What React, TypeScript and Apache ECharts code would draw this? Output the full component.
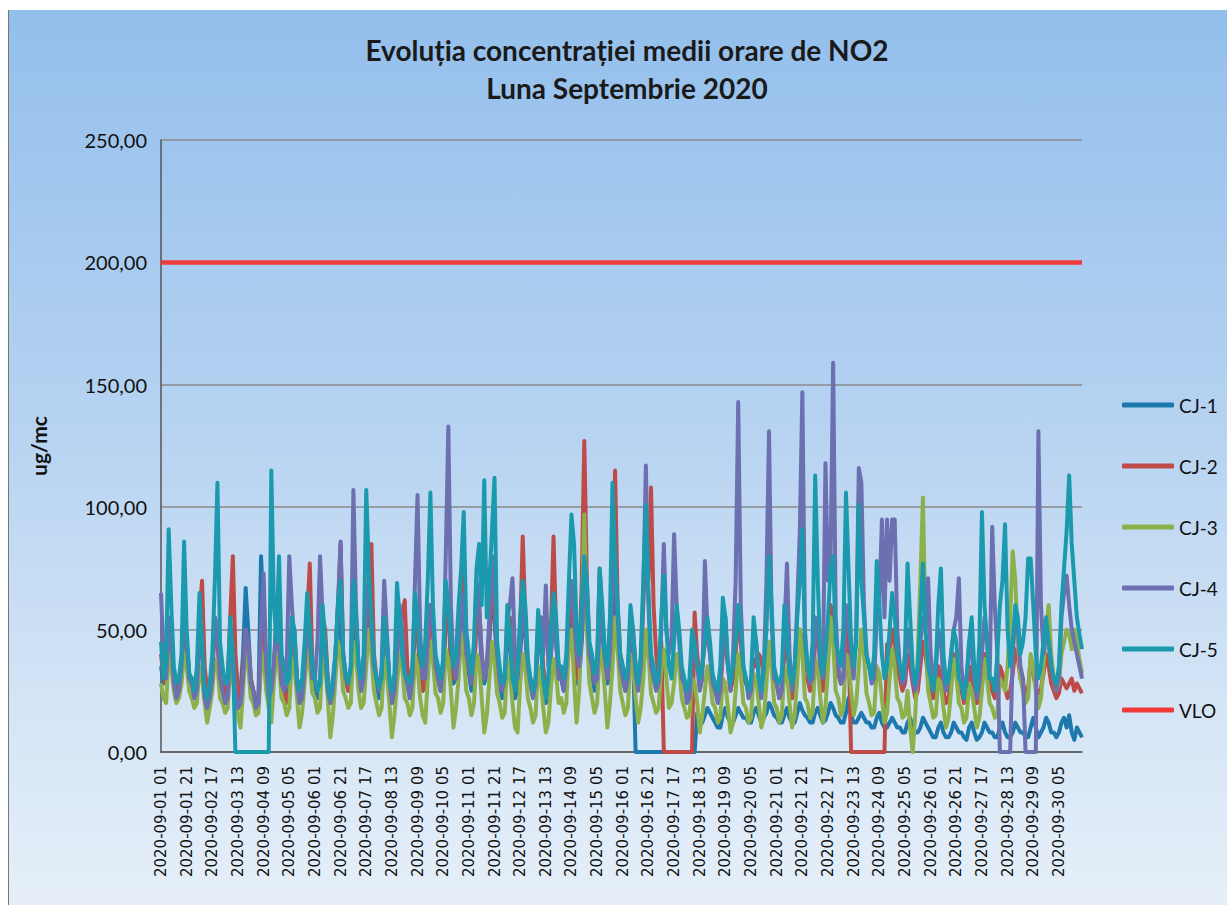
import React, { useEffect, useRef } from "react";
import * as echarts from "echarts";

// Hourly slots sampled every 2 hours: 01,03,...,23 per day, 1..30 September 2020
const DAY_NUMBERS = Array.from({ length: 30 }, (_, i) => i + 1);
const SLOT_HOURS = [1, 3, 5, 7, 9, 11, 13, 15, 17, 19, 21, 23];

const CJ1_DAYS = [
  [35, 28, 30, 50, 45, 30, 25, 28, 35, 55, 45, 30],
  [28, 22, 25, 50, 45, 28, 22, 25, 35, 55, 50, 30],
  [28, 22, 25, 50, 45, 30, 22, 25, 40, 67, 50, 30],
  [25, 20, 22, 80, 55, 35, 25, 28, 35, 55, 45, 30],
  [28, 22, 25, 50, 45, 30, 22, 25, 35, 55, 50, 30],
  [28, 22, 25, 50, 45, 28, 20, 25, 38, 55, 50, 32],
  [30, 25, 28, 55, 50, 32, 25, 28, 45, 65, 55, 35],
  [28, 22, 25, 50, 45, 28, 20, 25, 40, 55, 48, 30],
  [28, 22, 25, 55, 50, 32, 25, 28, 40, 60, 50, 32],
  [30, 25, 28, 55, 60, 35, 28, 30, 40, 60, 55, 35],
  [32, 25, 30, 60, 55, 35, 28, 32, 45, 65, 55, 35],
  [28, 22, 25, 50, 45, 30, 22, 25, 40, 55, 48, 30],
  [28, 22, 25, 48, 45, 28, 20, 25, 40, 55, 45, 30],
  [30, 25, 28, 55, 55, 38, 28, 30, 45, 65, 55, 35],
  [32, 25, 28, 55, 50, 35, 28, 32, 50, 65, 55, 35],
  [30, 25, 28, 50, 40, 0, 0, 0, 0, 0, 0, 0],
  [0, 0, 0, 0, 0, 0, 0, 0, 0, 0, 0, 0],
  [0, 0, 0, 0, 0, 16, 14, 12, 15, 18, 16, 14],
  [12, 10, 10, 15, 18, 14, 12, 12, 15, 18, 16, 14],
  [14, 12, 12, 16, 18, 15, 12, 14, 16, 20, 18, 15],
  [14, 12, 12, 15, 18, 14, 12, 12, 16, 20, 17, 15],
  [14, 12, 12, 16, 18, 15, 12, 13, 16, 20, 18, 15],
  [14, 12, 12, 16, 22, 15, 12, 12, 14, 16, 14, 12],
  [12, 10, 10, 14, 16, 12, 10, 10, 12, 14, 12, 10],
  [10, 8, 8, 12, 14, 10, 8, 8, 10, 14, 12, 10],
  [8, 6, 6, 10, 12, 8, 6, 6, 8, 12, 10, 8],
  [8, 6, 5, 10, 12, 8, 5, 6, 8, 12, 10, 8],
  [8, 6, 6, 10, 12, 8, 6, 6, 8, 12, 10, 8],
  [8, 6, 6, 10, 14, 10, 6, 8, 10, 14, 12, 8],
  [8, 6, 8, 12, 14, 10, 15, 8, 5, 10, 8, 6],
];

const CJ2_DAYS = [
  [40, 30, 28, 45, 40, 30, 25, 28, 35, 50, 45, 32],
  [30, 25, 30, 55, 70, 35, 25, 28, 35, 50, 45, 30],
  [28, 22, 28, 55, 80, 40, 25, 18, 35, 50, 45, 30],
  [25, 20, 22, 45, 55, 35, 25, 25, 35, 50, 45, 28],
  [25, 20, 25, 50, 50, 30, 20, 22, 35, 55, 77, 35],
  [30, 25, 28, 55, 50, 30, 22, 25, 40, 60, 85, 40],
  [30, 25, 30, 60, 55, 35, 28, 30, 50, 70, 85, 40],
  [30, 25, 30, 55, 45, 30, 22, 25, 40, 50, 55, 62],
  [35, 28, 30, 55, 50, 35, 25, 28, 40, 55, 50, 35],
  [30, 25, 30, 55, 60, 40, 30, 30, 45, 60, 85, 40],
  [35, 28, 30, 55, 60, 40, 30, 35, 50, 65, 60, 40],
  [30, 25, 28, 50, 55, 35, 25, 30, 50, 88, 55, 35],
  [30, 25, 28, 50, 55, 35, 25, 30, 50, 88, 50, 35],
  [32, 28, 32, 60, 65, 45, 30, 35, 70, 127, 70, 40],
  [35, 30, 35, 75, 55, 40, 30, 40, 70, 115, 60, 40],
  [35, 28, 30, 55, 50, 35, 28, 35, 60, 90, 70, 108],
  [60, 40, 30, 45, 0, 0, 0, 0, 0, 0, 0, 0],
  [0, 0, 0, 0, 57, 40, 30, 35, 45, 50, 40, 30],
  [28, 22, 25, 40, 45, 35, 25, 30, 40, 55, 45, 30],
  [28, 25, 28, 38, 35, 40, 38, 30, 35, 45, 40, 30],
  [28, 22, 25, 40, 45, 30, 22, 25, 35, 50, 45, 30],
  [30, 25, 28, 45, 50, 35, 25, 30, 45, 60, 55, 35],
  [32, 28, 30, 50, 45, 0, 0, 0, 0, 0, 0, 0],
  [0, 0, 0, 0, 0, 0, 0, 44, 40, 50, 45, 35],
  [30, 25, 28, 40, 35, 28, 22, 25, 35, 45, 40, 30],
  [28, 22, 25, 35, 30, 25, 20, 22, 30, 40, 35, 28],
  [25, 20, 22, 35, 30, 25, 20, 22, 30, 40, 35, 28],
  [25, 22, 24, 35, 32, 26, 22, 25, 32, 42, 38, 30],
  [28, 24, 26, 38, 32, 26, 24, 26, 32, 40, 35, 28],
  [25, 22, 24, 30, 28, 26, 28, 30, 25, 28, 26, 24],
];

const CJ3_DAYS = [
  [28, 22, 20, 40, 35, 25, 20, 22, 28, 40, 35, 25],
  [22, 18, 20, 35, 30, 20, 12, 18, 25, 38, 35, 22],
  [20, 16, 18, 35, 30, 22, 15, 10, 25, 45, 35, 22],
  [20, 15, 16, 35, 40, 25, 18, 12, 28, 40, 35, 22],
  [20, 15, 18, 38, 35, 22, 10, 16, 28, 42, 35, 24],
  [22, 16, 18, 40, 35, 22, 6, 15, 30, 45, 40, 25],
  [22, 18, 20, 45, 40, 25, 18, 20, 35, 50, 40, 25],
  [20, 15, 18, 38, 32, 20, 6, 15, 28, 40, 35, 22],
  [20, 15, 18, 40, 35, 22, 15, 12, 30, 45, 38, 24],
  [22, 16, 20, 42, 38, 25, 10, 18, 30, 48, 40, 25],
  [22, 15, 20, 40, 38, 22, 8, 15, 30, 45, 38, 24],
  [20, 14, 16, 38, 32, 20, 10, 8, 28, 40, 35, 22],
  [18, 12, 15, 35, 30, 18, 8, 12, 26, 38, 32, 20],
  [22, 16, 20, 45, 50, 30, 12, 25, 55, 97, 50, 28],
  [22, 16, 20, 42, 38, 25, 10, 20, 35, 55, 42, 25],
  [20, 15, 18, 40, 35, 22, 12, 18, 30, 50, 40, 24],
  [20, 16, 18, 35, 42, 30, 18, 20, 28, 40, 35, 22],
  [18, 14, 15, 30, 28, 20, 8, 15, 25, 35, 30, 20],
  [18, 12, 14, 30, 28, 18, 8, 12, 25, 40, 32, 20],
  [18, 12, 14, 32, 30, 20, 10, 14, 28, 45, 35, 20],
  [18, 12, 15, 35, 32, 20, 10, 15, 30, 50, 40, 22],
  [20, 14, 16, 38, 35, 22, 12, 18, 35, 55, 45, 25],
  [22, 15, 18, 40, 38, 25, 15, 20, 35, 50, 40, 24],
  [20, 15, 16, 35, 32, 22, 12, 16, 30, 42, 35, 22],
  [20, 14, 15, 25, 10, 0, 15, 40, 70, 104, 50, 25],
  [20, 14, 15, 30, 28, 18, 10, 14, 25, 38, 32, 20],
  [18, 12, 14, 28, 25, 18, 10, 14, 25, 38, 30, 20],
  [18, 14, 16, 30, 28, 25, 35, 55, 82, 70, 45, 30],
  [25, 20, 22, 40, 35, 25, 18, 22, 35, 50, 60, 40],
  [30, 25, 28, 40, 45, 50, 48, 42, 50, 45, 38, 32],
];

const CJ4_DAYS = [
  [65, 40, 30, 55, 45, 28, 22, 25, 35, 60, 45, 30],
  [28, 22, 25, 50, 40, 22, 18, 22, 30, 55, 50, 30],
  [25, 20, 22, 45, 40, 25, 18, 20, 30, 50, 45, 28],
  [25, 18, 20, 50, 73, 35, 22, 25, 35, 55, 45, 28],
  [25, 35, 80, 60, 45, 28, 20, 22, 35, 55, 45, 30],
  [30, 45, 80, 55, 40, 25, 20, 25, 40, 60, 86, 40],
  [30, 28, 35, 107, 60, 35, 25, 30, 60, 70, 50, 35],
  [30, 25, 35, 70, 50, 30, 20, 25, 40, 60, 50, 32],
  [28, 22, 30, 70, 105, 50, 30, 30, 45, 60, 55, 35],
  [30, 25, 35, 80, 133, 60, 35, 30, 40, 65, 60, 40],
  [35, 28, 40, 70, 60, 40, 30, 35, 55, 80, 65, 40],
  [30, 25, 30, 55, 60, 71, 40, 30, 45, 60, 50, 35],
  [28, 22, 28, 50, 55, 40, 68, 35, 40, 55, 45, 30],
  [30, 25, 35, 60, 70, 55, 40, 35, 50, 75, 60, 40],
  [35, 28, 30, 55, 50, 38, 30, 40, 70, 75, 55, 35],
  [30, 25, 30, 55, 45, 32, 25, 35, 65, 117, 60, 35],
  [30, 25, 28, 50, 85, 50, 40, 45, 89, 60, 45, 30],
  [28, 20, 22, 40, 45, 35, 25, 30, 78, 50, 40, 28],
  [25, 20, 25, 45, 55, 35, 25, 40, 70, 143, 60, 35],
  [30, 22, 25, 50, 45, 30, 22, 35, 70, 131, 55, 30],
  [28, 22, 25, 50, 77, 40, 25, 35, 60, 90, 147, 50],
  [35, 28, 30, 55, 50, 35, 30, 118, 70, 80, 159, 55],
  [35, 28, 30, 60, 55, 40, 30, 50, 116, 110, 60, 40],
  [35, 28, 30, 55, 60, 95, 55, 95, 70, 95, 95, 50],
  [35, 28, 30, 50, 45, 30, 25, 30, 45, 55, 50, 71],
  [40, 30, 32, 50, 45, 30, 25, 30, 40, 50, 55, 71],
  [35, 25, 28, 45, 40, 30, 22, 28, 40, 55, 45, 30],
  [92, 60, 40, 0, 0, 0, 0, 0, 40, 55, 50, 35],
  [30, 0, 0, 0, 0, 0, 131, 60, 40, 50, 45, 35],
  [30, 25, 30, 55, 65, 72, 60, 50, 45, 40, 35, 30],
];

const CJ5_DAYS = [
  [45, 30, 38, 91, 60, 35, 28, 30, 40, 86, 50, 32],
  [30, 25, 35, 65, 45, 25, 22, 28, 40, 70, 110, 45],
  [35, 28, 30, 55, 40, 0, 0, 0, 0, 0, 0, 0],
  [0, 0, 0, 0, 0, 0, 0, 115, 60, 45, 80, 40],
  [35, 28, 30, 55, 50, 30, 25, 30, 45, 65, 50, 35],
  [30, 25, 28, 60, 45, 28, 22, 30, 40, 62, 70, 40],
  [32, 28, 35, 70, 55, 35, 30, 40, 107, 75, 55, 38],
  [30, 26, 30, 55, 45, 30, 25, 32, 69, 55, 40, 32],
  [30, 28, 35, 65, 55, 40, 35, 45, 70, 106, 60, 40],
  [35, 30, 38, 70, 60, 45, 35, 40, 60, 75, 98, 50],
  [40, 32, 45, 75, 85, 60, 111, 55, 70, 90, 112, 45],
  [35, 28, 30, 60, 50, 30, 25, 35, 55, 70, 60, 38],
  [30, 25, 30, 58, 48, 30, 22, 30, 50, 65, 55, 35],
  [35, 30, 40, 70, 97, 85, 50, 40, 60, 80, 70, 45],
  [40, 32, 38, 75, 60, 40, 35, 55, 110, 80, 60, 40],
  [35, 30, 35, 60, 50, 35, 28, 40, 70, 101, 65, 40],
  [35, 28, 32, 55, 72, 50, 35, 30, 45, 60, 50, 35],
  [30, 25, 30, 50, 45, 35, 30, 35, 45, 55, 45, 32],
  [28, 25, 35, 63, 55, 35, 28, 35, 45, 60, 50, 35],
  [30, 25, 30, 55, 45, 30, 25, 35, 50, 80, 60, 35],
  [30, 28, 32, 60, 50, 32, 28, 35, 55, 70, 91, 45],
  [35, 30, 45, 113, 70, 40, 32, 40, 55, 75, 80, 45],
  [40, 35, 50, 106, 75, 45, 35, 45, 101, 70, 55, 40],
  [35, 30, 40, 78, 60, 40, 30, 35, 50, 65, 55, 40],
  [35, 30, 40, 77, 55, 35, 28, 35, 55, 77, 50, 35],
  [30, 25, 35, 60, 75, 40, 28, 30, 40, 50, 45, 30],
  [28, 22, 30, 45, 55, 35, 25, 45, 98, 60, 45, 30],
  [30, 25, 40, 60, 70, 93, 50, 35, 45, 60, 55, 40],
  [45, 55, 79, 79, 60, 40, 30, 35, 45, 55, 45, 35],
  [30, 28, 35, 60, 75, 90, 113, 85, 70, 55, 48, 42],
];

const VLO_VALUE = 200;
const Y_TICKS = [0, 50, 100, 150, 200, 250];

const SERIES_NAMES = ["CJ-1", "CJ-2", "CJ-3", "CJ-4", "CJ-5", "VLO"];
const SERIES_COLORS = ["#1D78AE", "#BE4B48", "#8CB04A", "#6C6FB0", "#1B9AAD", "#F03A3A"];

const pad = (n: number) => (n < 10 ? "0" + n : String(n));

export default function App() {
  const ref = useRef<HTMLDivElement>(null);

  useEffect(() => {
    if (!ref.current) return;
    const chart = echarts.init(ref.current, undefined, { renderer: "svg" });

    const categories: string[] = [];
    DAY_NUMBERS.forEach((d) =>
      SLOT_HOURS.forEach((h) => categories.push(`2020-09-${pad(d)} ${pad(h)}`))
    );

    const stations = [CJ1_DAYS, CJ2_DAYS, CJ3_DAYS, CJ4_DAYS, CJ5_DAYS].map((days) =>
      days.flat()
    );
    const vlo = categories.map(() => VLO_VALUE);
    const allData = [...stations, vlo];

    const font = "Lato, 'Open Sans', sans-serif";

    chart.setOption({
      animation: false,
      backgroundColor: "transparent",
      title: {
        text: "Evoluția concentrației medii orare de NO2\nLuna Septembrie 2020",
        left: 618,
        top: 21,
        padding: 0,
        textAlign: "center",
        textStyle: {
          fontFamily: font,
          fontWeight: "bold",
          fontSize: 28,
          lineHeight: 38,
          color: "#1a1a1a",
        },
      },
      legend: {
        orient: "vertical",
        left: 1108,
        top: 380,
        itemWidth: 52,
        itemHeight: 5,
        itemGap: 41,
        icon: "roundRect",
        data: SERIES_NAMES,
        textStyle: {
          fontFamily: font,
          fontSize: 19,
          lineHeight: 20,
          color: "#111",
        },
      },
      grid: {
        left: 152,
        right: 145,
        top: 130,
        bottom: 153,
        containLabel: false,
      },
      xAxis: {
        type: "category",
        data: categories,
        boundaryGap: false,
        axisLine: { show: true, lineStyle: { color: "#555", width: 1.5 } },
        axisTick: { show: false },
        axisLabel: {
          interval: 9,
          rotate: 90,
          margin: 14,
          fontFamily: "'DejaVu Sans', sans-serif",
          fontSize: 15,
          color: "#111",
        },
        splitLine: { show: false },
      },
      yAxis: {
        type: "value",
        min: Y_TICKS[0],
        max: Y_TICKS[Y_TICKS.length - 1],
        interval: 50,
        name: "ug/mc",
        nameLocation: "middle",
        nameGap: 112,
        nameTextStyle: {
          fontFamily: font,
          fontWeight: "bold",
          fontSize: 21,
          color: "#111",
        },
        axisLine: { show: true, lineStyle: { color: "#555", width: 1.5 } },
        axisTick: { show: false },
        axisLabel: {
          margin: 14,
          fontFamily: font,
          fontSize: 20,
          color: "#111",
          formatter: (v: number) => v.toFixed(2).replace(".", ","),
        },
        splitLine: { show: true, lineStyle: { color: "#8a8a8a", width: 1.5 } },
      },
      series: allData.map((data, i) => ({
        name: SERIES_NAMES[i],
        type: "line",
        data,
        showSymbol: false,
        symbol: "none",
        color: SERIES_COLORS[i],
        lineStyle: { width: i === 5 ? 4.5 : 4, color: SERIES_COLORS[i], join: "round" },
        z: 2 + i,
      })),
    });

    return () => chart.dispose();
  }, []);

  return (
    <div
      ref={ref}
      style={{
        position: "fixed",
        left: 8,
        top: 10,
        width: 1219,
        height: 895,
        background: "linear-gradient(180deg, #93BFEC 0%, #B5D2F1 45%, #D6E6F6 80%, #E6EFF9 100%)",
        borderLeft: "1px solid #777",
        boxSizing: "border-box",
      }}
    />
  );
}
